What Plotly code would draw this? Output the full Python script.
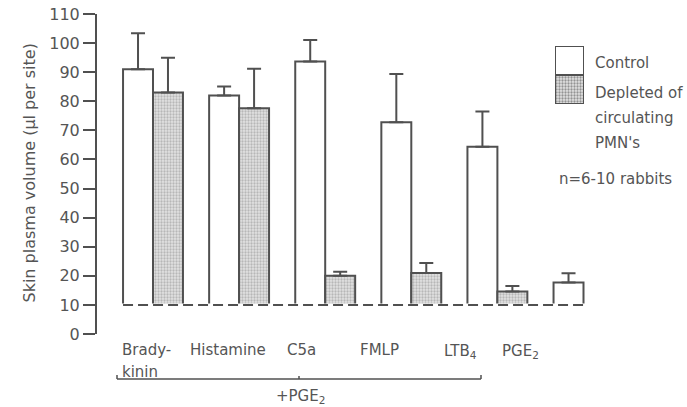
import plotly.graph_objects as go

# ---- data ----
categories = ["Bradykinin", "Histamine", "C5a", "FMLP", "LTB4", "PGE2"]
control = [91.0, 82.0, 93.7, 72.8, 64.4, 17.7]
control_err = [12.4, 3.1, 7.4, 16.6, 12.1, 3.2]
depleted = [83.0, 77.6, 20.0, 21.0, 14.6, None]
depleted_err = [12.0, 13.6, 1.4, 3.4, 1.9, None]
baseline = 10
y_ticks = list(range(0, 111, 10))

TXT = "#555555"
LN = "#505050"
FONT = "DejaVu Sans"

# layout geometry (pixels)
L, T, W, H = 97, 14, 590, 320
def px(x):
    return (x - L) / W
def py(y):
    return (T + H - y) / H

xpos = list(range(len(categories)))
bar_w = 0.348
bargap = 1 - 2 * bar_w

fig = go.Figure()
fig.add_trace(go.Bar(
    x=xpos, y=[v - baseline for v in control], base=baseline,
    marker=dict(color="white", line=dict(color=LN, width=2)),
    error_y=dict(type="data", symmetric=False, array=control_err,
                 arrayminus=[0] * len(control), color=LN, thickness=2, width=7),
    name="Control", showlegend=False,
))
fig.add_trace(go.Bar(
    x=xpos, y=[(v - baseline) if v is not None else None for v in depleted], base=baseline,
    marker=dict(color="#d4d4d4", line=dict(color=LN, width=2),
                pattern=dict(shape=".", fgcolor="#8c8c8c", bgcolor="#e2e2e2", size=3, solidity=0.45)),
    error_y=dict(type="data", symmetric=False, array=[e if e is not None else 0 for e in depleted_err],
                 arrayminus=[0] * len(depleted), color=LN, thickness=2, width=7),
    name="Depleted", showlegend=False,
))

# legend swatch (stacked box) on its own small axes
fig.add_trace(go.Bar(
    x=[0, 0], y=[1, 1], base=[0, 1], width=[1, 1],
    marker=dict(color=["#e2e2e2", "white"], line=dict(color=LN, width=2),
                pattern=dict(shape=[".", ""], fgcolor="#8c8c8c", bgcolor=["#e2e2e2", "white"],
                             size=3, solidity=0.45)),
    xaxis="x2", yaxis="y2", showlegend=False, hoverinfo="skip",
))

# dashed baseline (white underlay hides bar bottoms, then dashes)
fig.add_shape(type="line", xref="x", yref="y",
              x0=xpos[0] - bar_w - 0.02, x1=xpos[-1] + 0.02, y0=baseline, y1=baseline,
              line=dict(color="white", width=3))
fig.add_shape(type="line", xref="x", yref="y",
              x0=xpos[0] - bar_w, x1=xpos[-1], y0=baseline, y1=baseline,
              line=dict(color=LN, width=2, dash="10px,5px"))

annotations = []
# y title
annotations.append(dict(text="Skin plasma volume (µl per site)", xref="paper", yref="paper",
                        x=px(17), y=py(173), textangle=-90, showarrow=False,
                        font=dict(size=16, color=TXT, family=FONT)))
# x category labels
xl = [("Brady-", 120, 350), ("kinin", 120, 372), ("Histamine", 188, 350), ("C5a", 285, 350),
      ("FMLP", 358, 350), ("LTB<sub>4</sub>", 442, 351), ("PGE<sub>2</sub>", 500, 351)]
for t, x, y in xl:
    annotations.append(dict(text=t, xref="paper", yref="paper", x=px(x), y=py(y),
                            xanchor="left", yanchor="middle", showarrow=False,
                            font=dict(size=15, color=TXT, family=FONT)))
annotations.append(dict(text="+PGE<sub>2</sub>", xref="paper", yref="paper", x=px(300), y=py(396),
                        xanchor="center", yanchor="middle", showarrow=False,
                        font=dict(size=15, color=TXT, family=FONT)))
# legend texts
lt = [("Control", 593, 63), ("Depleted of", 593, 93), ("circulating", 593, 118),
      ("PMN's", 593, 143), ("n=6-10 rabbits", 557, 179)]
for t, x, y in lt:
    annotations.append(dict(text=t, xref="paper", yref="paper", x=px(x), y=py(y),
                            xanchor="left", yanchor="middle", showarrow=False,
                            font=dict(size=15, color=TXT, family=FONT)))

# bracket under labels
for (x0, y0, x1, y1) in [(117, 379, 481, 379), (117, 379, 117, 375), (481, 379, 481, 375),
                         (299, 379, 299, 376)]:
    fig.add_shape(type="line", xref="paper", yref="paper",
                  x0=px(x0), x1=px(x1), y0=py(y0), y1=py(y1),
                  line=dict(color=LN, width=1.5))

fig.update_layout(
    width=687, height=407,
    margin=dict(l=L, r=687 - L - W, t=T, b=407 - T - H),
    paper_bgcolor="white", plot_bgcolor="white",
    barmode="group", bargap=bargap, bargroupgap=0,
    annotations=annotations,
    xaxis=dict(range=[-(153 - L) / 86.1, (687 - 153) / 86.1], visible=False, fixedrange=True),
    yaxis=dict(range=[0, 110], tickvals=y_ticks, showline=True, linewidth=2, linecolor=LN,
               ticks="outside", ticklen=12, tickwidth=2, tickcolor=LN, showgrid=False,
               zeroline=False, tickfont=dict(size=16, color=TXT, family=FONT)),
    xaxis2=dict(domain=[px(555), px(584)], range=[-0.5, 0.5], visible=False, anchor="y2"),
    yaxis2=dict(domain=[py(104), py(46)], range=[0, 2], visible=False, anchor="x2"),
    font=dict(family=FONT, color=TXT),
)

fig.write_html("out.html")
